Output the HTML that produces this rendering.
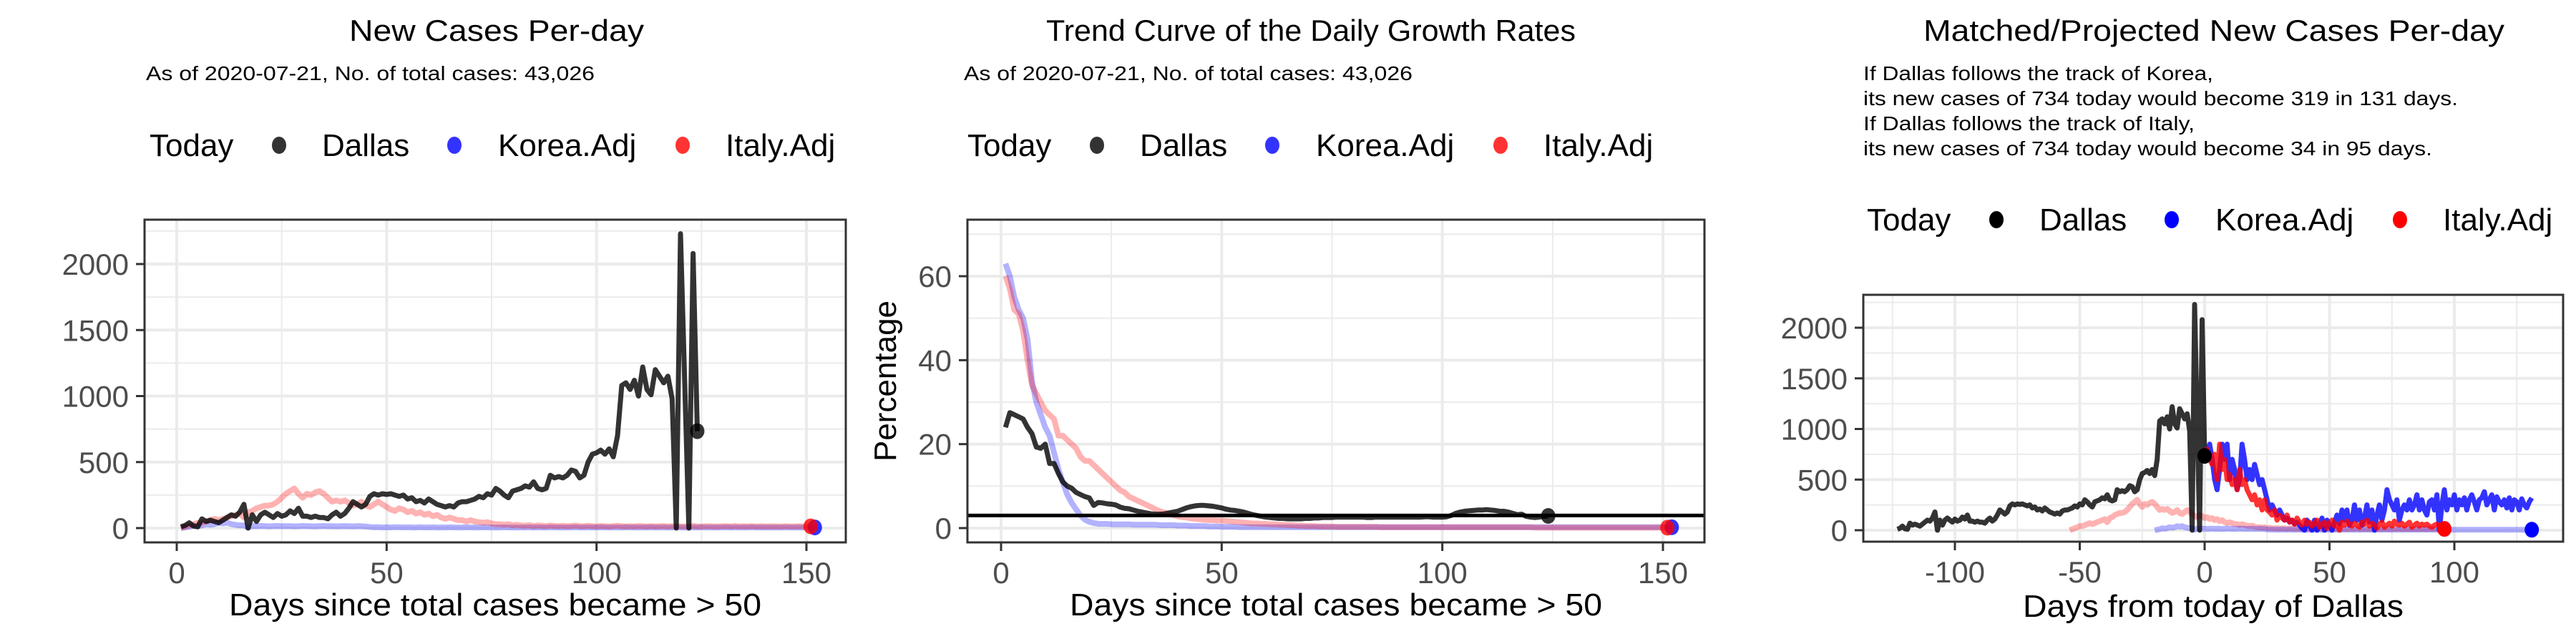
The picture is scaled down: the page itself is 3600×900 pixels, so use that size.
<!DOCTYPE html>
<html><head><meta charset="utf-8"><style>
html,body{margin:0;padding:0;background:#fff;}
svg{display:block;font-family:"Liberation Sans",sans-serif;}
</style></head><body>
<svg id="root" width="3600" height="900" viewBox="0 0 3600 900" xmlns="http://www.w3.org/2000/svg"></svg>
<script>
// ---------- DATA ----------
const dallasNew = [10,20,40,15,10,70,50,60,50,40,
60,80,100,90,120,180,0,100,50,100,
120,100,80,110,90,100,130,110,150,90,
90,80,90,80,80,70,100,120,90,110,
150,200,180,160,180,240,260,250,260,255,
260,250,240,250,220,230,200,210,190,220,
200,180,170,160,170,160,190,200,200,210,
220,240,230,260,250,300,280,250,230,280,
290,300,320,310,350,300,290,300,400,380,
390,380,400,440,430,380,400,500,560,570,
590,560,600,540,700,1080,1100,1050,1120,1000,
1220,1050,1010,1200,1150,1100,1150,980,0,2230,1100,0,2080,734];
const koreaNew = [0,5,10,20,15,20,30,25,30,40,35,40,30,25,20,20,5,
15,14,16,15,13,15,16,14,15,15,13,14,16,15,14,13,15,16,14,15,13,14,15,14,13,15,14,12,
8,6,7,5,6,5,7,6,5,6,5,4,6,5,5,6,4,5,5,6,5,4,5,6,5,5,4,6,5,5,4,5,6,5,5,
4,5,5,6,4,5,5,4,6,5,5,4,5,5,6,4,5,5,4,5,6,5,4,5,5,4,6,5,5,4,5,5,6,4,5,
5,4,5,6,5,4,5,5,4,6,5,5,4,5,5,6,4,5,5,4,5,6,5,4,5,5,4,
5,4,5,5,4,5,4,5,4,5];
const italyNew = [0,10,20,30,40,40,50,60,70,60,
70,80,90,100,110,80,120,130,150,160,
170,170,180,200,230,260,280,300,260,230,
260,250,270,280,260,230,200,210,200,210,
190,170,180,200,170,160,180,200,180,160,
140,130,150,140,120,130,110,120,100,110,
90,100,80,70,80,70,60,60,50,60,
50,45,40,45,35,30,30,25,30,20,
25,20,18,22,15,20,18,15,20,16,15,18,14,16,20,15,14,18,15,12,
16,14,12,15,18,14,12,15,13,16,14,12,15,13,14,16,12,14,15,13,
12,14,16,13,12,15,14,13,12,15,14,13,16,12,14,13,15,12,14,13,12,
14,13,12,15,13,12,14,13,12,13];
const dallasRate = [24,27.5,27,26.5,26,24,22.5,19.3,19,20,
15.4,15.4,13,11,10,9.5,8.5,8,7.5,7.2,
5.4,6.1,6,5.8,5.7,5.5,5,4.7,4.6,4.3,
4,3.8,3.6,3.4,3.3,3.3,3.4,3.6,3.8,4,
4.4,4.8,5.1,5.3,5.4,5.4,5.3,5.2,5,4.8,
4.5,4.3,4.2,4,3.8,3.5,3.2,3,2.8,2.6,
2.5,2.4,2.3,2.3,2.2,2.2,2.2,2.2,2.3,2.3,
2.4,2.4,2.5,2.5,2.5,2.6,2.6,2.6,2.6,2.6,
2.6,2.6,2.5,2.5,2.6,2.6,2.6,2.6,2.6,2.6,
2.6,2.6,2.6,2.6,2.6,2.7,2.7,2.6,2.6,2.6,
2.7,3,3.5,3.8,4,4.1,4.2,4.3,4.3,4.4,
4.3,4.2,4,4,3.8,3.5,3.2,3.3,2.8,2.6,
2.5,2.6,2.8,2.9];
const koreaRate = [63,60,55,52,50,45,35,30,27,24,22,18,14,11,8,6,4.5,3,2,1.5,
1.2,1,1,1,0.9,0.9,0.9,0.9,0.9,0.8,0.8,0.8,0.8,0.8,0.8,0.7,0.7,0.7,0.7,0.6,
0.6,0.6,0.5,0.5,0.5,0.5,0.4,0.4,0.4,0.3,0.3,0.3,0.3,0.2,0.2,0.2,0.2,0.2,0.2,0.2,
0.2,0.2,0.2,0.2,0.2,0.2,0.2,0.2,0.2,0.2,0.2,0.2,0.2,0.2,0.2,0.2,0.2,0.2,0.2,0.2,
0.2,0.2,0.2,0.2,0.2,0.2,0.2,0.2,0.2,0.2,0.2,0.2,0.2,0.2,0.2,0.2,0.2,0.2,0.2,0.2,
0.2,0.2,0.2,0.2,0.2,0.2,0.2,0.2,0.2,0.2,0.2,0.2,0.2,0.2,0.2,0.2,0.2,0.2,0.2,0.2,
0.2,0.2,0.2,0.2,0.2,0.2,0.2,0.2,0.2,0.2,0.2,0.2,0.2,0.2,0.2,0.2,0.2,0.2,0.2,0.2,
0.2,0.2,0.2,0.2,0.2,0.2,0.2,0.2,0.2,0.2,0.2,0.2];
const italyRate = [60,57,52,51,47,40,34,32,30,28,27,26,22,22,21,20,19,17,16,16,
15,14,13,12,11,10,9,8.5,7.5,7,6.5,6,5.5,5,4.5,4,3.7,3.4,3.1,2.8,
2.6,2.5,2.3,2.2,2.1,2,1.9,1.9,1.8,1.8,1.7,1.6,1.5,1.4,1.3,1.2,1.1,1.1,1,1,
0.9,0.9,0.8,0.8,0.7,0.7,0.6,0.6,0.5,0.5,0.5,0.4,0.4,0.4,0.4,0.3,0.3,0.3,0.3,0.3,
0.3,0.3,0.3,0.3,0.3,0.2,0.2,0.2,0.2,0.2,0.2,0.2,0.2,0.2,0.2,0.2,0.2,0.2,0.2,0.2,
0.2,0.2,0.2,0.2,0.2,0.2,0.2,0.2,0.2,0.2,0.2,0.2,0.2,0.2,0.2,0.2,0.2,0.2,0.2,0.2,
0.1,0.1,0.1,0.1,0.1,0.1,0.1,0.1,0.1,0.1,0.1,0.1,0.1,0.1,0.1,0.1,0.1,0.1,0.1,0.1,
0.1,0.1,0.1,0.1,0.1,0.1,0.1,0.1,0.1,0.1,0.1];
const koreaProj = [734,750,850,700,500,400,600,850,700,850,
500,700,600,400,500,850,700,500,600,500,
650,550,450,500,400,300,200,250,200,150,
200,150,100,120,80,100,60,80,50,20,
0,100,50,0,100,0,50,120,0,100,
50,0,80,150,60,200,100,200,50,100,
250,100,200,50,120,250,80,200,0,150,
250,100,200,400,300,250,200,300,100,200,
250,200,300,200,250,350,200,300,200,150,
280,300,200,350,0,250,400,200,300,250,
350,200,300,250,320,200,300,350,280,200,
300,320,380,250,300,350,200,330,280,250,
300,220,320,200,300,280,200,310,250,220,
280,319];
const italyProj = [734,800,700,650,750,500,850,600,700,500,
550,450,500,400,600,450,500,400,350,300,
350,250,300,200,300,200,180,150,200,100,
150,120,100,150,80,100,60,120,80,50,
100,60,80,40,70,100,30,60,80,20,
70,100,40,60,0,80,50,90,60,40,
70,50,30,80,60,100,40,70,50,20,
60,80,30,50,70,40,90,60,50,70,
40,60,80,30,50,70,40,60,50,60,
40,30,50,60,40,34];
const yTicksCases = [0,500,1000,1500,2000];
const yTicksRate = [0,20,40,60];
const xTicksDays = [0,50,100,150];
const xTicksRel = [-100,-50,0,50,100];
const thresholdRate = 3;

// ---------- DRAW ----------
const NS = "http://www.w3.org/2000/svg";
const root = document.getElementById('root');
function el(tag, attrs, parent, txt){
  const e = document.createElementNS(NS, tag);
  for (const k in attrs) e.setAttribute(k, attrs[k]);
  if (txt !== undefined) e.textContent = txt;
  (parent || root).appendChild(e);
  return e;
}
function lin(d0,d1,r0,r1){ return v => r0 + (v-d0)/(d1-d0)*(r1-r0); }

function panel(cfg){
  const g = el('g', {});
  
  
  const {L,R,T,B,x,y} = cfg;
  cfg.xMinor.forEach(v=>{ const l=el('line',{x1:x(v),x2:x(v),y1:T,y2:B,stroke:'#ebebeb','stroke-width':2},g);   });
  cfg.yMinor.forEach(v=>{ const l=el('line',{x1:L,x2:R,y1:y(v),y2:y(v),stroke:'#ebebeb','stroke-width':2},g);   });
  cfg.xTicks.forEach(v=>{ const l=el('line',{x1:x(v),x2:x(v),y1:T,y2:B,stroke:'#ebebeb','stroke-width':4},g);   });
  cfg.yTicks.forEach(v=>{ const l=el('line',{x1:L,x2:R,y1:y(v),y2:y(v),stroke:'#ebebeb','stroke-width':4},g);   });
  const clip = 'clip-'+cfg.name;
  const cp = el('clipPath',{id:clip},g); el('rect',{x:L,y:T,width:R-L,height:B-T},cp);
  const sg = el('g',{'clip-path':'url(#'+clip+')'},g);
  cfg.series.forEach(s=>{
    const pts = s.vals.map((v,i)=>x(i+s.x0).toFixed(1)+','+y(v).toFixed(1)).join(' ');
    const p = el('polyline',{points:pts,fill:'none',stroke:s.color,'stroke-opacity':s.op,'stroke-width':s.w,'stroke-linejoin':'round'},sg);
    
    
  });
  (cfg.hlines||[]).forEach(v=>{ const l=el('line',{x1:L,x2:R,y1:y(v),y2:y(v),stroke:'#000','stroke-width':5},sg);   });
  cfg.dots.forEach(s=>{
    const n = s.vals.length-1;
    const c = el('ellipse',{cx:x(n+s.x0),cy:y(s.vals[n]),rx:10,ry:11,fill:s.color,'fill-opacity':s.op},sg);
    
    
  });
  const b = el('rect',{x:L,y:T,width:R-L,height:B-T,fill:'none',stroke:'#333','stroke-width':3},g);
   
  cfg.yTicks.forEach(v=>{
    el('line',{x1:L-12,x2:L,y1:y(v),y2:y(v),stroke:'#333','stroke-width':3},g);
    const t = el('text',{x:L-22,y:y(v)+15,'text-anchor':'end','font-size':42,fill:'#4d4d4d'},g,String(v));
     
  });
  cfg.xTicks.forEach(v=>{
    el('line',{x1:x(v),x2:x(v),y1:B,y2:B+12,stroke:'#333','stroke-width':3},g);
    const t = el('text',{x:x(v),y:B+57,'text-anchor':'middle','font-size':42,fill:'#4d4d4d'},g,String(v));
     
  });
  const xt = el('text',{x:(L+R)/2,y:cfg.xtY,'text-anchor':'middle','font-size':44,fill:'#000',textLength:cfg.xtLen,lengthAdjust:'spacingAndGlyphs'},g,cfg.xTitle);
   
  if (cfg.yTitle){
    const yt = el('text',{x:0,y:0,'text-anchor':'middle','font-size':44,fill:'#000',transform:'translate('+cfg.ytX+','+((T+B)/2)+') rotate(-90)'},g,cfg.yTitle);
     
  }
  const tt = el('text',{x:cfg.titleX,y:57,'text-anchor':'middle','font-size':42,fill:'#000',textLength:cfg.titleLen,lengthAdjust:'spacingAndGlyphs'},g,cfg.title);
   
  cfg.sub.forEach((s,i)=>{
    const st = el('text',{x:cfg.subX,y:cfg.subY+i*35,'font-size':28,fill:'#000',textLength:s[1],lengthAdjust:'spacingAndGlyphs'},g,s[0]);
     
  });
  const lg = el('g',{},g);
   
  const lx = cfg.legX, ly = cfg.legY;
  el('text',{x:lx,y:ly,'font-size':44,fill:'#000'},lg,'Today');
  const items = [['Dallas','#000',181,241],['Korea.Adj','#0000ff',426,487],['Italy.Adj','#ff0000',745,805]];
  items.forEach(it=>{
    const e = el('g',{},lg);
     
    el('ellipse',{cx:lx+it[2],cy:ly-15,rx:10,ry:12,fill:it[1],'fill-opacity':cfg.legOp},e);
    el('text',{x:lx+it[3],y:ly,'font-size':44,fill:'#000'},e,it[0]);
  });
}

const bg = el('rect',{x:0,y:0,width:3600,height:900,fill:'#fff'});
 

const x1 = lin(0,150,247,1127), y1 = lin(0,2000,738,369);
panel({name:'new-cases-panel',L:202,R:1182,T:307,B:758,x:x1,y:y1,
  xTicks:xTicksDays,xMinor:[25,75,125],yTicks:yTicksCases,yMinor:[250,750,1250,1750,2250],
  series:[{name:'korea-line',vals:koreaNew,x0:1,color:'#0000ff',op:0.3,w:8},
          {name:'italy-line',vals:italyNew,x0:1,color:'#ff0000',op:0.3,w:8},
          {name:'dallas-line',vals:dallasNew,x0:1,color:'#000',op:0.8,w:7}],
  dots:[{name:'dallas-today-dot',vals:dallasNew,x0:1,color:'#000',op:0.8},
        {name:'korea-today-dot',vals:koreaNew,x0:1,color:'#0000ff',op:0.8},
        {name:'italy-today-dot',vals:italyNew,x0:1,color:'#ff0000',op:0.8}],
  xTitle:'Days since total cases became > 50',xtY:860,xtLen:744,
  title:'New Cases Per-day',titleX:694,titleLen:412,
  sub:[['As of 2020-07-21, No. of total cases: 43,026',627]],subX:204,subY:112,
  legX:209,legY:218,legOp:0.8});

const x2 = lin(0,150,1399,2324), y2 = lin(0,60,738,386);
panel({name:'growth-rate-panel',L:1352,R:2382,T:307,B:758,x:x2,y:y2,
  xTicks:xTicksDays,xMinor:[25,75,125],yTicks:yTicksRate,yMinor:[10,30,50,70],
  series:[{name:'korea-rate-line',vals:koreaRate,x0:1,color:'#0000ff',op:0.3,w:8},
          {name:'italy-rate-line',vals:italyRate,x0:1,color:'#ff0000',op:0.3,w:8},
          {name:'dallas-rate-line',vals:dallasRate,x0:1,color:'#000',op:0.8,w:7}],
  hlines:[thresholdRate],
  dots:[{name:'dallas-rate-dot',vals:dallasRate,x0:1,color:'#000',op:0.8},
        {name:'korea-rate-dot',vals:koreaRate,x0:1,color:'#0000ff',op:0.8},
        {name:'italy-rate-dot',vals:italyRate,x0:1,color:'#ff0000',op:0.8}],
  xTitle:'Days since total cases became > 50',xtY:860,xtLen:744,yTitle:'Percentage',ytX:1252,
  title:'Trend Curve of the Daily Growth Rates',titleX:1832,titleLen:740,
  sub:[['As of 2020-07-21, No. of total cases: 43,026',627]],subX:1347,subY:112,
  legX:1352,legY:218,legOp:0.8});

const x3 = lin(-100,100,2732,3430), y3 = lin(0,2000,741,458);
panel({name:'projected-panel',L:2604,R:3582,T:412,B:757,x:x3,y:y3,
  xTicks:xTicksRel,xMinor:[-125,-75,-25,25,75,125],yTicks:yTicksCases,yMinor:[250,750,1250,1750,2250],
  series:[{name:'italy-raw-line',vals:italyNew,x0:-54,color:'#ff0000',op:0.3,w:8},
          {name:'korea-raw-line',vals:koreaNew,x0:-20,color:'#0000ff',op:0.3,w:8},
          {name:'dallas-line',vals:dallasNew,x0:-123,color:'#000',op:0.8,w:7},
          {name:'korea-projection-line',vals:koreaProj,x0:0,color:'#0000ff',op:0.8,w:7},
          {name:'italy-projection-line',vals:italyProj,x0:0,color:'#ff0000',op:0.8,w:7}],
  dots:[{name:'dallas-today-dot',vals:dallasNew,x0:-123,color:'#000',op:1},
        {name:'korea-end-dot',vals:koreaNew,x0:-20,color:'#0000ff',op:1},
        {name:'italy-end-dot',vals:italyNew,x0:-54,color:'#ff0000',op:1}],
  xTitle:'Days from today of Dallas',xtY:862,xtLen:532,
  title:'Matched/Projected New Cases Per-day',titleX:3094,titleLen:812,
  sub:[['If Dallas follows the track of Korea,',489],
       ['its new cases of 734 today would become 319 in 131 days.',831],
       ['If Dallas follows the track of Italy,',463],
       ['its new cases of 734 today would become 34 in 95 days.',795]],subX:2604,subY:112,
  legX:2609,legY:322,legOp:1});
</script>
</body></html>
